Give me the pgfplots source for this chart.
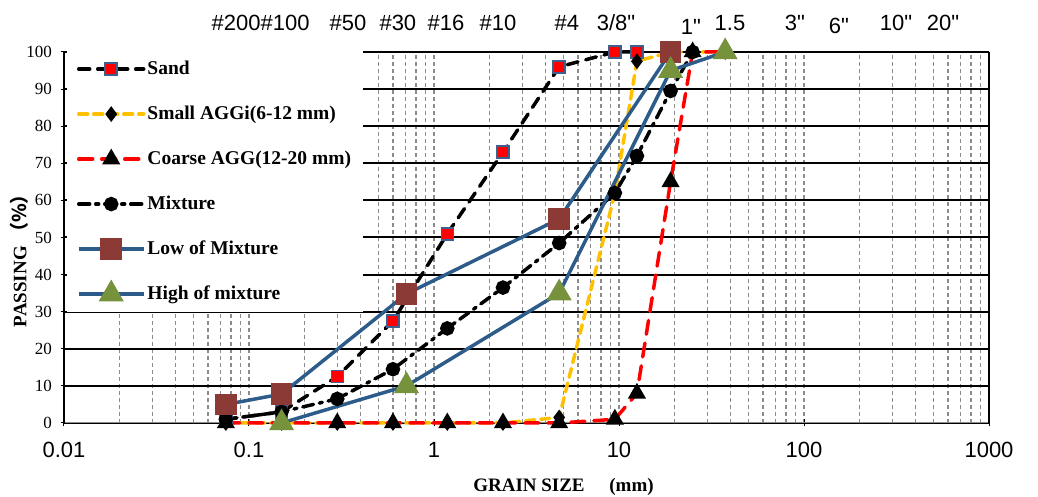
\documentclass[border=0pt]{standalone}
\usepackage{pgfplots}
\pgfplotsset{compat=1.18}
\usepackage{fontspec}
\setmainfont{Liberation Serif}
\newfontfamily\arial{Liberation Sans}
\newfontfamily\cjk{Noto Sans CJK SC}
\definecolor{cblue}{HTML}{2E5C8A}
\definecolor{cbrown}{HTML}{8B3A35}
\definecolor{cgreen}{HTML}{76923C}
\definecolor{cyellow}{HTML}{FFC000}
\definecolor{cred}{HTML}{FF0000}
\definecolor{cedge}{HTML}{3F5F8F}
\begin{document}
\begin{tikzpicture}
\useasboundingbox (-64pt,-74pt) rectangle (974pt,423pt);
\begin{axis}[
  scale only axis, width=925pt, height=371pt,
  xmode=log, xmin=0.01, xmax=1000, ymin=0, ymax=100,
  clip=false,
  axis x line*=bottom, axis y line*=left,
  x axis line style={black!45, line width=1pt},
  y axis line style={black, line width=1.5pt},
  xtick={0.01,0.1,1,10,100,1000},
  xticklabels={0.01,0.1,1,10,100,1000},
  xticklabel style={font=\arial\fontsize{22}{22}\selectfont, yshift=-12pt},
  ytick={0,10,...,100},
  yticklabel style={font=\fontsize{17}{17}\selectfont, xshift=-5pt},
  /pgf/number format/assume math mode=true,
  tick align=center,
  major tick length=7pt, minor tick length=0pt,
  tick style={black, line width=1pt},
  grid style={}, major grid style={}, minor grid style={},
  xmajorgrids, xminorgrids, ymajorgrids,
  x grid style={black!45, line width=1.2pt, dash pattern=on 3.5pt off 3.5pt},
  y grid style={black, line width=2pt, solid},
  xlabel={GRAIN SIZE\hspace{1.3em}(mm)},
  xlabel style={font=\bfseries\fontsize{19}{19}\selectfont, at={(axis description cs:0.54,-0.172)}, anchor=center},
  ylabel={PASSING{\cjk\ （\%）}},
  ylabel style={font=\bfseries\fontsize{19}{19}\selectfont, at={(axis description cs:-0.0486,0.45)}, anchor=center},
  legend cell align=left,
  legend image code/.code={\draw[mark repeat=2,mark phase=2,#1] plot coordinates {(0pt,0pt) (32.5pt,0pt) (65pt,0pt)};},
  legend style={at={(axis description cs:0.003,1.003)}, anchor=north west, draw=none, fill=white,
    font=\bfseries\fontsize{19.5}{19.5}\selectfont, inner xsep=10pt, inner ysep=7pt, row sep=23pt,
    nodes={inner sep=2pt, text height=14pt, text depth=4pt}},
]
% Sand
\addplot[black, line width=3.5pt, line cap=round, dash pattern=on 11pt off 8pt,
  mark=square*, mark size=6pt, mark options={solid, fill=cred, draw=cedge, line width=1.5pt}]
  coordinates {(0.075,1) (0.15,3) (0.3,12.5) (0.6,27.5) (1.18,51) (2.36,73) (4.75,96) (9.5,100) (12.5,100)};
\addlegendentry{Sand}
% Small AGG
\addplot[cyellow, line width=3.5pt, line cap=round, dash pattern=on 9pt off 6pt,
  mark=diamond*, mark size=5pt, mark options={solid, fill=black, draw=black}]
  coordinates {(0.075,0) (0.15,0) (0.3,0) (0.6,0) (1.18,0) (2.36,0) (4.75,1.5) (9.5,62) (12.5,97.5) (19,100) (25,100) (37.5,100)};
\addlegendentry{Small AGGi(6-12 mm)}
% Coarse AGG
\addplot[cred, line width=3.5pt, line cap=round, dash pattern=on 14pt off 9pt,
  mark=triangle*, mark size=7pt, mark options={solid, fill=black, draw=black}]
  coordinates {(0.075,0) (0.15,0) (0.3,0) (0.6,0) (1.18,0) (2.36,0) (4.75,0) (9.5,1) (12.5,8) (19,65) (25,100) (37.5,100)};
\addlegendentry{Coarse AGG(12-20 mm)}
% Mixture
\addplot[black, line width=3.5pt, line cap=round, dash pattern=on 11pt off 6pt on 3pt off 6pt,
  mark=*, mark size=5.5pt, mark options={solid, fill=black, draw=black}]
  coordinates {(0.075,1) (0.15,3) (0.3,6.5) (0.6,14.5) (1.18,25.5) (2.36,36.5) (4.75,48.5) (9.5,62) (12.5,72) (19,89.5) (25,100)};
\addlegendentry{Mixture}
% Low of mixture
\addplot[cblue, line width=3.5pt, solid,
  mark=square*, mark size=9pt, mark options={fill=cbrown, draw=cbrown}]
  coordinates {(0.075,5) (0.15,7.8) (0.71,34.8) (4.75,55) (19,100)};
\addlegendentry{Low of Mixture}
% High of mixture
\addplot[cblue, line width=3.5pt, solid,
  mark=triangle*, mark size=11pt, mark options={fill=cgreen, draw=cgreen}]
  coordinates {(0.15,0) (0.71,10) (4.75,35) (19,95) (37.5,100)};
\addlegendentry{High of mixture}
\draw[black, line width=1.5pt] (rel axis cs:1,0) -- (rel axis cs:1,1);
\begin{scope}[every node/.style={font=\arial\fontsize{22}{22}\selectfont, anchor=base}]
\node[yshift=21pt] at (axis cs:0.0851,100) {\#200};
\node[yshift=21pt] at (axis cs:0.1567,100) {\#100};
\node[yshift=21pt] at (axis cs:0.343,100) {\#50};
\node[yshift=21pt] at (axis cs:0.638,100) {\#30};
\node[yshift=21pt] at (axis cs:1.161,100) {\#16};
\node[yshift=21pt] at (axis cs:2.218,100) {\#10};
\node[yshift=21pt] at (axis cs:5.23,100) {\#4};
\node[yshift=21pt] at (axis cs:9.63,100) {3/8"};
\node[yshift=17pt] at (axis cs:24.5,100) {1"};
\node[yshift=21pt] at (axis cs:39.8,100) {1.5};
\node[yshift=21pt] at (axis cs:89.4,100) {3"};
\node[yshift=18pt] at (axis cs:154.5,100) {6"};
\node[yshift=21pt] at (axis cs:314,100) {10"};
\node[yshift=21pt] at (axis cs:564,100) {20"};
\end{scope}
\end{axis}
\end{tikzpicture}
\end{document}
